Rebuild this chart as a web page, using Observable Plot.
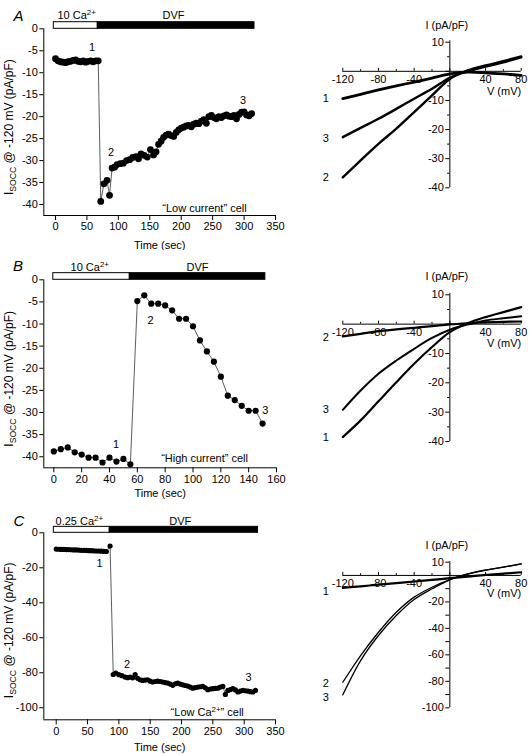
<!DOCTYPE html>
<html>
<head>
<meta charset="utf-8">
<script src="https://cdn.jsdelivr.net/npm/d3@7"></script>
<script src="https://cdn.jsdelivr.net/npm/@observablehq/plot@0.6"></script>
<style>
  html, body { margin: 0; padding: 0; background: white; }
  #fig { position: relative; width: 529px; height: 754px; background: white; }
  #fig svg { position: absolute; }
</style>
</head>
<body>
<div id="fig"></div>
<script>
// ---------------- DATA ----------------
// Panel A: "Low current" cell, I_SOCC at -120 mV vs time
const A_time = [0,4,8,12,16,20,24,28,32,36,40,44,48,52,56,60,64,68,
  72,77,82,86,90,94,98,103,108,113,118,123,128,132,136,141,146,151,156,160,164,168,172,176,180,184,188,192,196,200,204,208,212,216,220,224,228,232,236,240,244,248,252,256,260,264,268,272,276,280,284,288,292,296,300,304,308,312];
const A_isocc = [-6.8,-7.3,-7.5,-7.6,-7.7,-7.5,-7.4,-7.2,-7.1,-7.4,-7.5,-7.3,-7.6,-7.4,-7.3,-7.5,-7.3,-7.3,
  -39.3,-35.3,-34.5,-37.9,-31.7,-31.5,-30.9,-30.7,-30.6,-30.0,-29.8,-29.3,-29.1,-29.6,-28.5,-28.8,-29.2,-27.5,-28.7,-28.0,-26.3,-25.6,-24.7,-24.2,-24.0,-24.3,-24.5,-23.6,-23.0,-22.6,-22.4,-22.1,-22.0,-22.3,-21.7,-21.5,-21.6,-21.0,-20.7,-21.5,-20.0,-19.7,-20.2,-20.5,-20.0,-20.2,-19.8,-19.6,-19.9,-20.0,-19.7,-20.5,-19.5,-19.0,-18.9,-19.6,-19.8,-19.3];

// Panel B: "High current" cell
const B_time = [0,5,10,15,20,25,30,35,40,45,50,55,60,65,70,75,80,85,90,95,100,105,110,115,120,125,130,135,140,145,150];
const B_isocc = [-38.8,-38.3,-37.9,-39.0,-39.5,-40.2,-40.2,-41.3,-40.2,-41.1,-40.5,-41.7,-4.8,-3.5,-5.4,-5.4,-5.8,-6.9,-8.8,-8.8,-10.5,-13.7,-16.2,-18.5,-21.9,-26.2,-27.2,-28.5,-29.6,-29.6,-32.5];

// Panel C: "Low Ca2+" cell
const C_time = [0,4,8,12,16,20,24,28,32,36,40,44,48,52,56,60,64,68,72,76,80,86,
  91,95,100,105,110,114,118,122,126,130,134,138,142,146,150,154,158,162,166,170,174,178,182,186,190,194,198,202,206,210,214,218,222,226,230,234,238,242,246,250,254,258,262,266,270,274,278,282,286,290,294,298,302,306,310,314,318];
const C_isocc = [-9.3,-9.4,-9.5,-9.5,-9.6,-9.6,-9.7,-9.8,-9.8,-9.9,-10.0,-10.0,-10.1,-10.2,-10.2,-10.3,-10.4,-10.4,-10.5,-10.6,-10.7,-7.6,
  -81.0,-80.2,-81.1,-81.7,-82.5,-82.8,-82.5,-82.9,-81.0,-83.2,-84.0,-84.4,-84.2,-84.0,-84.8,-85.3,-85.0,-84.8,-85.0,-85.3,-85.6,-85.9,-86.5,-87.2,-86.3,-85.9,-86.5,-86.9,-87.3,-87.6,-88.2,-88.8,-88.5,-88.2,-88.0,-87.8,-88.6,-89.7,-89.3,-89.1,-88.9,-88.8,-88.2,-87.8,-92.4,-90.1,-89.6,-89.1,-89.8,-91.0,-90.5,-90.1,-90.3,-90.5,-90.8,-91.0,-90.1];

// Solution bars (sec): pre-solution start, DVF start, end
const A_bar = [-2.7, 67.3, 316.6];
const B_bar = [-0.4, 54.6, 152];
const C_bar = [-3.8, 85.5, 322];
const A_barText = ["10 Ca^{2+}", "DVF"];
const B_barText = ["10 Ca^{2+}", "DVF"];
const C_barText = ["0.25 Ca^{2+}", "DVF"];

// Tick values
const A_xTicks = [0,50,100,150,200,250,300,350];
const B_xTicks = [0,20,40,60,80,100,120,140,160];
const C_xTicks = [0,50,100,150,200,250,300,350];
const AB_yTicks = [0,-5,-10,-15,-20,-25,-30,-35,-40];
const C_yTicks = [0,-20,-40,-60,-80,-100];

// Trace annotations (time, current, label)
const A_notes = [[58.3,-4.2,"1"],[88.5,-28.1,"2"],[298.5,-16.3,"3"]];
const B_notes = [[44.8,-37.2,"1"],[69.5,-9.2,"2"],[152,-29.6,"3"]];
const C_notes = [[69,-17.7,"1"],[113,-75.2,"2"],[307,-82.9,"3"]];
const A_cell = "“Low current” cell";
const B_cell = "“High current” cell";
const C_cell = "“Low Ca^{2+}” cell";
const yTitle = "I_{SOCC} @ -120 mV (pA/pF)";
const xTitle = "Time (sec)";

// I-V relations (pA/pF) at voltages (mV)
const ivV = [-120,-100,-80,-60,-40,-20,0,20,40,60,80];
const A_iv1 = [-9.4,-7.9,-6.4,-5.0,-3.7,-2.3,-0.9,-0.3,-0.5,-0.9,-1.4];
const A_iv2 = [-36.4,-30.6,-24.9,-19.7,-14.0,-8.3,-2.6,0.3,2.0,3.5,5.1];
const A_iv3 = [-22.6,-19.4,-16.3,-12.9,-9.4,-6.0,-2.2,0.0,1.6,3.1,4.8];
const B_iv1 = [-38.5,-32.8,-26.3,-19.8,-13.5,-7.8,-2.7,0.3,2.4,4.1,5.8];
const B_iv2 = [-4.2,-3.3,-2.4,-1.8,-1.25,-0.7,-0.1,0.3,0.6,0.8,0.9];
const B_iv3 = [-29.2,-22.6,-16.9,-12.4,-8.4,-4.7,-1.9,-0.1,1.25,2.0,2.7];
const C_iv1 = [-9.4,-8.2,-7.0,-5.8,-4.6,-3.4,-2.1,-0.9,0.4,1.4,2.4];
const C_iv2 = [-80.7,-60.5,-42.9,-27.8,-16.4,-8.9,-3.1,1.1,4.0,6.3,8.8];
const C_iv3 = [-90.2,-64.3,-45.4,-30.3,-18.2,-10.1,-3.3,1.0,4.0,6.3,8.8];

const ivXLabels = [-120,-80,-40,40,80];
const ivXMajor = [-120,-80,-40,0,40,80];
const ivXMinor = [-100,-60,-20,20,60];
const AB_ivYLabels = [10,-10,-20,-30,-40];
const AB_ivYMajor = [10,0,-10,-20,-30,-40];
const AB_ivYMinor = [5,-5,-15,-25,-35];
const C_ivYLabels = [10,-20,-40,-60,-80,-100];
const C_ivYMajor = [10,0,-10,-20,-30,-40,-50,-60,-70,-80,-90,-100];
const C_ivYMinor = [];

// ---------------- DRAWING ----------------
const FONT = "'Liberation Sans', Arial, Helvetica, sans-serif";
const fig = document.getElementById("fig");

function rich(svg) {
  d3.select(svg).selectAll("text").each(function () {
    const s = this.textContent;
    if (!/[\^_]\{/.test(s)) return;
    const el = d3.select(this);
    el.text("");
    const re = /([\^_])\{([^}]*)\}/g;
    let last = 0, m, pending = 0;
    const normal = (t) => { if (!t) return; const ts = el.append("tspan").text(t); if (pending) { ts.attr("dy", pending); pending = 0; } };
    while ((m = re.exec(s))) {
      normal(s.slice(last, m.index));
      const d = m[1] === "^" ? -4 : 3;
      el.append("tspan").attr("dy", d + pending).attr("font-size", "0.72em").text(m[2]);
      pending = -d;
      last = re.lastIndex;
    }
    normal(s.slice(last));
  });
}

function place(svg, left, top) {
  svg.style.left = left + "px";
  svg.style.top = top + "px";
  rich(svg);
  fig.appendChild(svg);
}

function timePanel(p) {
  const [x0, x1] = p.xDomain, [y0, y1] = p.yDomain;
  const data = p.t.map((t, i) => ({t, v: p.v[i]}));
  const notes = p.notes.map(([x, y, text]) => ({x, y, text}));
  const [b0, b1, b2] = p.bar;
  return Plot.plot({
    width: p.width, height: p.height,
    marginLeft: p.ml, marginRight: p.mr, marginTop: p.mt, marginBottom: p.mb,
    x: {domain: p.xDomain, axis: null},
    y: {domain: p.yDomain, axis: null},
    style: {fontFamily: FONT, fontSize: "11px", color: "black", background: "white"},
    marks: [
      Plot.ruleX([x0], {y1: () => y0, y2: () => y1, stroke: "black"}),
      Plot.ruleY([y0], {x1: () => x0, x2: () => x1, stroke: "black"}),
      Plot.axisX(p.xTicks, {tickSize: 5, tickPadding: 2, label: null, tickFormat: (d) => String(d)}),
      Plot.axisY(p.yTicks, {tickSize: 4, tickPadding: 2, label: null, tickFormat: (d) => String(d)}),
      Plot.rect([0], {x1: () => b0, x2: () => b1, y1: () => 0, y2: () => p.barH, fill: "white", stroke: "black", strokeWidth: 1}),
      Plot.rect([0], {x1: () => b1, x2: () => b2, y1: () => 0, y2: () => p.barH, fill: "black", stroke: "black", strokeWidth: 1}),
      Plot.text([p.barText[0]], {x: () => p.barTextX[0], y: () => 0, dy: p.barDy, textAnchor: "start", fontSize: 11}),
      Plot.text([p.barText[1]], {x: () => p.barTextX[1], y: () => 0, dy: p.barDy, textAnchor: "middle", fontSize: 11}),
      Plot.line(data, {x: "t", y: "v", stroke: "#333", strokeWidth: 0.8}),
      Plot.dot(data, {x: "t", y: "v", r: p.r, fill: "black", stroke: null}),
      Plot.text(notes, {x: "x", y: "y", text: "text", fontSize: 11}),
      Plot.text([p.cell], {x: () => p.cellPos[0], y: () => p.cellPos[1], fontSize: 11}),
      Plot.text([yTitle], {x: () => x0, y: () => (y0 + y1) / 2, textAnchor: "middle", rotate: -90, dx: -35, dy: p.ylabDy, fontSize: 12}),
      Plot.text([xTitle], {x: () => (x0 + x1) / 2, y: () => y0, dy: p.titleDy, fontSize: 11}),
      Plot.text([p.letter], {frameAnchor: "top-left", dx: p.letterD[0], dy: p.letterD[1], fontSize: 15, fontStyle: "italic"})
    ]
  });
}

function ivPanel(p) {
  const [y0, y1] = p.yDomain;
  const tr = (arr) => ivV.map((v, i) => ({v, i: arr[i]}));
  const labels = p.labels.map(([y, text]) => ({y, text}));
  const marks = [
    Plot.ruleY([0], {x1: () => -120, x2: () => 80, stroke: "black"}),
    Plot.ruleX([0], {y1: () => y0, y2: () => y1 + 0.5, stroke: "black"}),
    Plot.ruleX(ivXMajor, {x: (d) => d, y1: () => 0, y2: () => p.xTickLen, stroke: "black"}),
    Plot.ruleX(ivXMinor, {x: (d) => d, y1: () => 0, y2: () => p.xTickLen * 0.6, stroke: "black"}),
    Plot.ruleY(p.yMajor, {y: (d) => d, x1: () => -4.5, x2: () => 0, stroke: "black"}),
    Plot.ruleY(p.yMinor, {y: (d) => d, x1: () => -2.5, x2: () => 0, stroke: "black"}),
    Plot.text(ivXLabels, {x: (d) => d, y: () => 0, dy: 8, text: (d) => String(d), fontSize: 11}),
    Plot.text(p.yLabels, {x: () => 0, y: (d) => d, dx: -6, textAnchor: "end", text: (d) => String(d), fontSize: 11}),
    Plot.text(["I (pA/pF)"], {x: () => 0, y: () => y1, dx: -3, dy: p.iDy, fontSize: 11}),
    Plot.text(["V (mV)"], {x: () => 80, y: () => 0, dy: p.vDy, textAnchor: "end", fontSize: 11}),
    ...p.curves.map(([arr, w]) => Plot.line(tr(arr), {x: "v", y: "i", curve: "catmull-rom", stroke: "black", strokeWidth: w})),
    Plot.text(labels, {x: () => -139, y: "y", text: "text", fontSize: 11})
  ];
  return Plot.plot({
    width: p.width, height: p.height,
    marginLeft: 42.3, marginRight: 8.3, marginTop: p.mt, marginBottom: p.mb,
    x: {domain: [-120, 80], axis: null},
    y: {domain: p.yDomain, axis: null},
    style: {fontFamily: FONT, fontSize: "11px", color: "black", background: "white"},
    marks
  });
}

place(timePanel({
  width: 300, height: 250, ml: 43.3, mr: 25, mt: 28.3, mb: 35,
  xDomain: [-18.6, 350], yDomain: [-42.5, 0], xTicks: A_xTicks, yTicks: AB_yTicks,
  t: A_time, v: A_isocc, r: 3.4, bar: A_bar, barH: 1.5,
  barText: A_barText, barTextX: [3.2, 187.7], barDy: -13,
  notes: A_notes, cell: A_cell, cellPos: [237, -41], titleDy: 30, ylabDy: 5,
  letter: "A", letterD: [-30.3, -18.3]
}), 0, 0);

place(ivPanel({
  width: 229, height: 250, mt: 41.7, mb: 62.7, yDomain: [-40, 10],
  yLabels: AB_ivYLabels, yMajor: AB_ivYMajor, yMinor: AB_ivYMinor, xTickLen: 1.0,
  iDy: -16.7, vDy: 20,
  curves: [[A_iv1, 2.8], [A_iv2, 2.4], [A_iv3, 2.4]],
  labels: [[-9.3, "1"], [-23.1, "3"], [-36.5, "2"]]
}), 300, 0);

place(timePanel({
  width: 300, height: 250, ml: 43.3, mr: 24, mt: 29.3, mb: 32.7,
  xDomain: [-7.2, 160], yDomain: [-42.5, 0], xTicks: B_xTicks, yTicks: AB_yTicks,
  t: B_time, v: B_isocc, r: 3.1, bar: B_bar, barH: 1.5,
  barText: B_barText, barTextX: [12, 103.2], barDy: -12.6,
  notes: B_notes, cell: B_cell, cellPos: [108.3, -40.4], titleDy: 26, ylabDy: 5,
  letter: "B", letterD: [-30.8, -19.8]
}), 0, 250);

place(ivPanel({
  width: 229, height: 250, mt: 44.3, mb: 59, yDomain: [-40, 10],
  yLabels: AB_ivYLabels, yMajor: AB_ivYMajor, yMinor: AB_ivYMinor, xTickLen: 1.0,
  iDy: -18, vDy: 19,
  curves: [[B_iv1, 2.2], [B_iv2, 2.2], [B_iv3, 2.0]],
  labels: [[-4.6, "2"], [-29.2, "3"], [-38.5, "1"]]
}), 300, 250);

place(timePanel({
  width: 300, height: 254, ml: 43.3, mr: 25, mt: 32.3, mb: 34.7,
  xDomain: [-19.8, 350], yDomain: [-106.9, 0], xTicks: C_xTicks, yTicks: C_yTicks,
  t: C_time, v: C_isocc, r: 2.6, bar: C_bar, barH: 3.4,
  barText: C_barText, barTextX: [-1, 198], barDy: -11.6,
  notes: C_notes, cell: C_cell, cellPos: [241, -102.5], titleDy: 28, ylabDy: 4,
  letter: "C", letterD: [-30.3, -17.3]
}), 0, 500);

place(ivPanel({
  width: 229, height: 254, mt: 61.7, mb: 46.7, yDomain: [-100, 10],
  yLabels: C_ivYLabels, yMajor: C_ivYMajor, yMinor: C_ivYMinor, xTickLen: 2.3,
  iDy: -17, vDy: 18,
  curves: [[C_iv1, 2.2], [C_iv2, 1.3], [C_iv3, 1.3]],
  labels: [[-11.9, "1"], [-81.9, "2"], [-92, "3"]]
}), 300, 500);
</script>
</body>
</html>
